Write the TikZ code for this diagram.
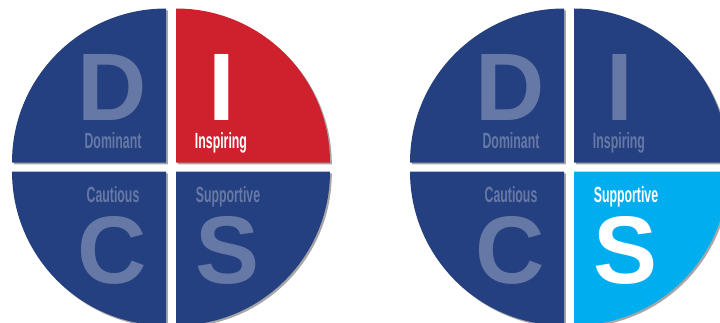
\documentclass[tikz,border=0pt]{standalone}
\usepackage{fontspec}
\usepackage{graphicx}
\setmainfont{Liberation Sans}

\definecolor{discnavy}{RGB}{36,64,128}
\definecolor{discred}{RGB}{206,33,45}
\definecolor{discsky}{RGB}{0,174,239}
\definecolor{discfaded}{RGB}{102,121,166}

\newcommand{\narrowtext}[1]{\scalebox{0.56}[1]{#1}}

\begin{document}
\begin{tikzpicture}[x=1pt, y=1pt,
    qshadow/.style={fill=black!35},
    bigletter/.style={font=\fontsize{96}{96}\selectfont\bfseries, text=discfaded, inner sep=0pt},
    tag/.style={font=\fontsize{22}{22}\selectfont\bfseries, text=discfaded, inner sep=0pt, anchor=base}]
    \useasboundingbox (0,0) rectangle (720,322);
    \clip (0,0) rectangle (720,322);

    % Left wheel (I highlighted)
    \foreach \cx/\cy/\a/\col in {166/159.5/90/discnavy, 176/159.5/0/discred, 166/150.5/180/discnavy, 176/150.5/270/discnavy} {
        \fill[qshadow] (\cx+1.8,\cy-1.8) -- ++(\a:154) arc[start angle=\a, delta angle=90, radius=154] -- cycle;
        \fill[\col] (\cx,\cy) -- ++(\a:154) arc[start angle=\a, delta angle=90, radius=154] -- cycle;
    }
    \node[bigletter] (dL) at (112,235) {D};
    \node[bigletter, text=white] (iL) at (222,235) {I};
    \node[bigletter] (cL) at (112,72) {C};
    \node[bigletter] (sL) at (228,72) {S};
    \node[tag] (domL) at (113,174) {\narrowtext{Dominant}};
    \node[tag, text=white] (insL) at (221,173.5) {\narrowtext{Inspiring}};
    \node[tag] (cauL) at (113,120) {\narrowtext{Cautious}};
    \node[tag] (supL) at (228,119.5) {\narrowtext{Supportive}};

    % Right wheel (S highlighted)
    \begin{scope}[shift={(398,0)}]
        \foreach \cx/\cy/\a/\col in {166/159.5/90/discnavy, 176/159.5/0/discnavy, 166/150.5/180/discnavy, 176/150.5/270/discsky} {
            \fill[qshadow] (\cx+1.8,\cy-1.8) -- ++(\a:154) arc[start angle=\a, delta angle=90, radius=154] -- cycle;
            \fill[\col] (\cx,\cy) -- ++(\a:154) arc[start angle=\a, delta angle=90, radius=154] -- cycle;
        }
        \node[bigletter] (dR) at (112,235) {D};
        \node[bigletter] (iR) at (222,235) {I};
        \node[bigletter] (cR) at (112,72) {C};
        \node[bigletter, text=white] (sR) at (228,72) {S};
        \node[tag] (domR) at (113,174) {\narrowtext{Dominant}};
        \node[tag] (insR) at (221,173.5) {\narrowtext{Inspiring}};
        \node[tag] (cauR) at (113,120) {\narrowtext{Cautious}};
        \node[tag, text=white] (supR) at (228,119.5) {\narrowtext{Supportive}};
    \end{scope}
\end{tikzpicture}
\end{document}
